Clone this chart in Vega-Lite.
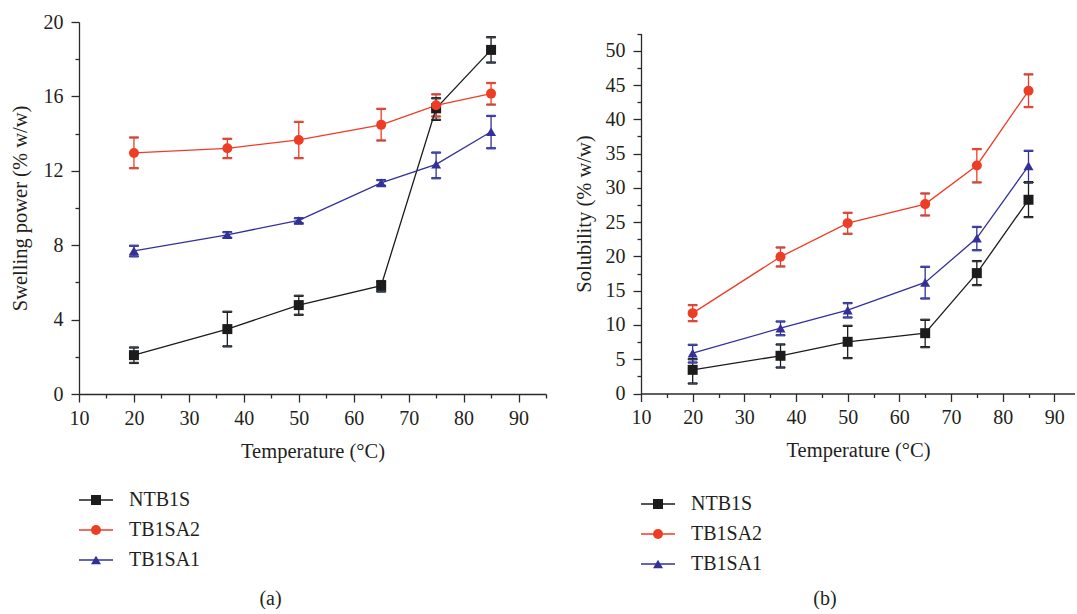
{
  "$schema": "https://vega.github.io/schema/vega-lite/v6.json",
  "padding": {"left": 10, "top": 12, "right": 0, "bottom": 0},
  "spacing": 27,
  "config": {
    "font": "Liberation Serif",
    "view": {"stroke": null},
    "axis": {"grid": false, "labelFont": "Liberation Serif", "titleFont": "Liberation Serif", "labelFontSize": 20, "titleFontSize": 20.5, "titleFontWeight": "normal", "labelColor": "#231f20", "titleColor": "#231f20", "domainColor": "#2a2a2a", "tickColor": "#2a2a2a", "domainWidth": 1.3, "tickWidth": 1.3, "labelOverlap": false, "labelFlush": false}
  },
  "datasets": {
    "swelling": [
      {"T": 20, "series": "NTB1S", "v": 2.09, "lo": 1.67, "hi": 2.5},
      {"T": 37, "series": "NTB1S", "v": 3.49, "lo": 2.56, "hi": 4.42},
      {"T": 50, "series": "NTB1S", "v": 4.78, "lo": 4.26, "hi": 5.28},
      {"T": 65, "series": "NTB1S", "v": 5.82, "lo": 5.51, "hi": 6.07},
      {"T": 75, "series": "NTB1S", "v": 15.36, "lo": 14.74, "hi": 15.9},
      {"T": 85, "series": "NTB1S", "v": 18.5, "lo": 17.82, "hi": 19.18},
      {"T": 20, "series": "TB1SA2", "v": 12.96, "lo": 12.14, "hi": 13.79},
      {"T": 37, "series": "TB1SA2", "v": 13.21, "lo": 12.68, "hi": 13.72},
      {"T": 50, "series": "TB1SA2", "v": 13.66, "lo": 12.68, "hi": 14.63},
      {"T": 65, "series": "TB1SA2", "v": 14.47, "lo": 13.63, "hi": 15.33},
      {"T": 75, "series": "TB1SA2", "v": 15.52, "lo": 14.92, "hi": 16.11},
      {"T": 85, "series": "TB1SA2", "v": 16.15, "lo": 15.56, "hi": 16.72},
      {"T": 20, "series": "TB1SA1", "v": 7.7, "lo": 7.4, "hi": 7.97},
      {"T": 37, "series": "TB1SA1", "v": 8.56, "lo": 8.4, "hi": 8.7},
      {"T": 50, "series": "TB1SA1", "v": 9.33, "lo": 9.18, "hi": 9.45},
      {"T": 65, "series": "TB1SA1", "v": 11.35, "lo": 11.2, "hi": 11.5},
      {"T": 75, "series": "TB1SA1", "v": 12.35, "lo": 11.6, "hi": 12.98},
      {"T": 85, "series": "TB1SA1", "v": 14.1, "lo": 13.21, "hi": 14.95}
    ],
    "solubility": [
      {"T": 20, "series": "NTB1S", "v": 3.45, "lo": 1.46, "hi": 5.0},
      {"T": 37, "series": "NTB1S", "v": 5.5, "lo": 3.79, "hi": 7.15},
      {"T": 50, "series": "NTB1S", "v": 7.54, "lo": 5.16, "hi": 9.87},
      {"T": 65, "series": "NTB1S", "v": 8.8, "lo": 6.76, "hi": 10.75},
      {"T": 75, "series": "NTB1S", "v": 17.56, "lo": 15.81, "hi": 19.31},
      {"T": 85, "series": "NTB1S", "v": 28.26, "lo": 25.73, "hi": 30.8},
      {"T": 20, "series": "TB1SA2", "v": 11.72, "lo": 10.55, "hi": 12.89},
      {"T": 37, "series": "TB1SA2", "v": 19.94, "lo": 18.53, "hi": 21.3},
      {"T": 50, "series": "TB1SA2", "v": 24.85, "lo": 23.3, "hi": 26.36},
      {"T": 65, "series": "TB1SA2", "v": 27.63, "lo": 25.97, "hi": 29.18},
      {"T": 75, "series": "TB1SA2", "v": 33.27, "lo": 30.79, "hi": 35.65},
      {"T": 85, "series": "TB1SA2", "v": 44.16, "lo": 41.78, "hi": 46.55},
      {"T": 20, "series": "TB1SA1", "v": 5.88, "lo": 4.52, "hi": 7.1},
      {"T": 37, "series": "TB1SA1", "v": 9.53, "lo": 8.5, "hi": 10.5},
      {"T": 50, "series": "TB1SA1", "v": 12.16, "lo": 11.09, "hi": 13.18},
      {"T": 65, "series": "TB1SA1", "v": 16.2, "lo": 13.86, "hi": 18.48},
      {"T": 75, "series": "TB1SA1", "v": 22.67, "lo": 20.9, "hi": 24.3},
      {"T": 85, "series": "TB1SA1", "v": 33.2, "lo": 30.8, "hi": 35.4}
    ]
  },
  "resolve": {
    "scale": {"x": "independent", "y": "independent", "stroke": "independent", "fill": "independent", "shape": "independent"},
    "legend": {"stroke": "independent", "fill": "independent", "shape": "independent"}
  },
  "hconcat": [
    {
      "width": 467,
      "height": 372,
      "data": {"name": "swelling"},
      "title": {"text": "(a)", "orient": "bottom", "frame": "group", "anchor": "middle", "dx": -42, "offset": 19, "fontSize": 20, "font": "Liberation Serif", "fontWeight": "normal", "color": "#231f20"},
      "encoding": {
        "x": {"field": "T", "type": "quantitative", "scale": {"domain": [10, 95], "nice": false, "zero": false},
          "axis": {"title": "Temperature (°C)", "values": [10, 15, 20, 25, 30, 35, 40, 45, 50, 55, 60, 65, 70, 75, 80, 85, 90, 95],
            "labelExpr": "datum.value % 10 === 0 ? datum.label : ''",
            "tickSize": {"condition": {"test": "datum.value % 10 === 0", "value": 8}, "value": 4},
            "labelPadding": 6, "titlePadding": 13}},
        "stroke": {"field": "series", "type": "nominal", "sort": ["NTB1S", "TB1SA2", "TB1SA1"],
          "scale": {"range": ["#1c1c1c", "#ee3d25", "#33309a"]},
          "legend": {"orient": "none", "legendX": 7, "legendY": 468, "title": null, "symbolType": "M-3.4,0H3.4", "symbolSize": 100, "symbolStrokeWidth": 1.4, "labelFont": "Liberation Serif", "labelFontSize": 20, "labelColor": "#231f20", "labelOffset": 23, "rowPadding": 10, "padding": 0}},
        "y": {"field": "v", "type": "quantitative", "scale": {"domain": [0, 20], "nice": false},
          "axis": {"title": "Swelling power (% w/w)", "values": [0, 2, 4, 6, 8, 10, 12, 14, 16, 18, 20], "labelExpr": "datum.value % 4 === 0 ? datum.label : ''", "tickSize": {"condition": {"test": "datum.value % 4 === 0", "value": 8}, "value": 4}, "labelPadding": 8, "titlePadding": 13}}
      },
      "layer": [
        {"mark": {"type": "rule", "strokeWidth": 1.3, "opacity": 1},
          "encoding": {"y": {"field": "lo", "type": "quantitative", "scale": {"domain": [0, 20], "nice": false},
            "axis": {"title": "Swelling power (% w/w)", "values": [0, 2, 4, 6, 8, 10, 12, 14, 16, 18, 20], "labelExpr": "datum.value % 4 === 0 ? datum.label : ''", "tickSize": {"condition": {"test": "datum.value % 4 === 0", "value": 8}, "value": 4}, "labelPadding": 8, "titlePadding": 13}},
            "y2": {"field": "hi"}}},
        {"mark": {"type": "tick", "orient": "horizontal", "size": 9, "thickness": 1.3, "opacity": 1},
          "encoding": {"y": {"field": "lo", "type": "quantitative", "scale": {"domain": [0, 20], "nice": false},
            "axis": {"title": "Swelling power (% w/w)", "values": [0, 2, 4, 6, 8, 10, 12, 14, 16, 18, 20], "labelExpr": "datum.value % 4 === 0 ? datum.label : ''", "tickSize": {"condition": {"test": "datum.value % 4 === 0", "value": 8}, "value": 4}, "labelPadding": 8, "titlePadding": 13}}}},
        {"mark": {"type": "tick", "orient": "horizontal", "size": 9, "thickness": 1.3, "opacity": 1},
          "encoding": {"y": {"field": "hi", "type": "quantitative", "scale": {"domain": [0, 20], "nice": false},
            "axis": {"title": "Swelling power (% w/w)", "values": [0, 2, 4, 6, 8, 10, 12, 14, 16, 18, 20], "labelExpr": "datum.value % 4 === 0 ? datum.label : ''", "tickSize": {"condition": {"test": "datum.value % 4 === 0", "value": 8}, "value": 4}, "labelPadding": 8, "titlePadding": 13}}}},
        {"mark": {"type": "line", "strokeWidth": 1.3}},
        {"mark": {"type": "point", "filled": true, "size": 100, "opacity": 1, "strokeWidth": 0},
          "encoding": {
            "fill": {"field": "series", "type": "nominal",
              "scale": {"domain": ["NTB1S", "TB1SA2", "TB1SA1"], "range": ["#1c1c1c", "#ee3d25", "#33309a"]},
              "legend": {"orient": "none", "legendX": 7, "legendY": 468, "title": null, "symbolSize": 100, "symbolStrokeWidth": 0, "labelFont": "Liberation Serif", "labelFontSize": 20, "labelOpacity": 0, "labelOffset": 23, "rowPadding": 10, "padding": 0}},
            "shape": {"field": "series", "type": "nominal",
              "scale": {"domain": ["NTB1S", "TB1SA2", "TB1SA1"], "range": ["square", "circle", "triangle-up"]},
              "legend": {"orient": "none", "legendX": 7, "legendY": 468, "title": null, "symbolSize": 100, "symbolStrokeWidth": 0, "labelFont": "Liberation Serif", "labelFontSize": 20, "labelOpacity": 0, "labelOffset": 23, "rowPadding": 10, "padding": 0}}}}
      ]
    },
    {
      "width": 434,
      "height": 371.5,
      "data": {"name": "solubility"},
      "title": {"text": "(b)", "orient": "bottom", "frame": "group", "anchor": "middle", "dx": -33, "offset": 15, "fontSize": 20, "font": "Liberation Serif", "fontWeight": "normal", "color": "#231f20"},
      "encoding": {
        "x": {"field": "T", "type": "quantitative", "scale": {"domain": [10, 94], "nice": false, "zero": false},
          "axis": {"title": "Temperature (°C)", "values": [10, 15, 20, 25, 30, 35, 40, 45, 50, 55, 60, 65, 70, 75, 80, 85, 90],
            "labelExpr": "datum.value % 10 === 0 ? datum.label : ''",
            "tickSize": {"condition": {"test": "datum.value % 10 === 0", "value": 8}, "value": 4},
            "labelPadding": 6, "titlePadding": 13}},
        "stroke": {"field": "series", "type": "nominal", "sort": ["NTB1S", "TB1SA2", "TB1SA1"],
          "scale": {"range": ["#1c1c1c", "#ee3d25", "#33309a"]},
          "legend": {"orient": "none", "legendX": 7, "legendY": 472, "title": null, "symbolType": "M-3.4,0H3.4", "symbolSize": 100, "symbolStrokeWidth": 1.4, "labelFont": "Liberation Serif", "labelFontSize": 20, "labelColor": "#231f20", "labelOffset": 23, "rowPadding": 10, "padding": 0}},
        "y": {"field": "v", "type": "quantitative", "scale": {"domain": [0, 52.5], "nice": false, "range": [371.5, 11.6]},
          "axis": {"title": "Solubility (% w/w)", "values": [0, 2.5, 5, 7.5, 10, 12.5, 15, 17.5, 20, 22.5, 25, 27.5, 30, 32.5, 35, 37.5, 40, 42.5, 45, 47.5, 50, 52.5], "labelExpr": "datum.value % 5 === 0 ? datum.label : ''", "tickSize": {"condition": {"test": "datum.value % 5 === 0", "value": 8}, "value": 4}, "labelPadding": 8, "titlePadding": 11}}
      },
      "layer": [
        {"mark": {"type": "rule", "strokeWidth": 1.3, "opacity": 1},
          "encoding": {"y": {"field": "lo", "type": "quantitative", "scale": {"domain": [0, 52.5], "nice": false, "range": [371.5, 11.6]},
            "axis": {"title": "Solubility (% w/w)", "values": [0, 2.5, 5, 7.5, 10, 12.5, 15, 17.5, 20, 22.5, 25, 27.5, 30, 32.5, 35, 37.5, 40, 42.5, 45, 47.5, 50, 52.5], "labelExpr": "datum.value % 5 === 0 ? datum.label : ''", "tickSize": {"condition": {"test": "datum.value % 5 === 0", "value": 8}, "value": 4}, "labelPadding": 8, "titlePadding": 11}},
            "y2": {"field": "hi"}}},
        {"mark": {"type": "tick", "orient": "horizontal", "size": 9, "thickness": 1.3, "opacity": 1},
          "encoding": {"y": {"field": "lo", "type": "quantitative", "scale": {"domain": [0, 52.5], "nice": false, "range": [371.5, 11.6]},
            "axis": {"title": "Solubility (% w/w)", "values": [0, 2.5, 5, 7.5, 10, 12.5, 15, 17.5, 20, 22.5, 25, 27.5, 30, 32.5, 35, 37.5, 40, 42.5, 45, 47.5, 50, 52.5], "labelExpr": "datum.value % 5 === 0 ? datum.label : ''", "tickSize": {"condition": {"test": "datum.value % 5 === 0", "value": 8}, "value": 4}, "labelPadding": 8, "titlePadding": 11}}}},
        {"mark": {"type": "tick", "orient": "horizontal", "size": 9, "thickness": 1.3, "opacity": 1},
          "encoding": {"y": {"field": "hi", "type": "quantitative", "scale": {"domain": [0, 52.5], "nice": false, "range": [371.5, 11.6]},
            "axis": {"title": "Solubility (% w/w)", "values": [0, 2.5, 5, 7.5, 10, 12.5, 15, 17.5, 20, 22.5, 25, 27.5, 30, 32.5, 35, 37.5, 40, 42.5, 45, 47.5, 50, 52.5], "labelExpr": "datum.value % 5 === 0 ? datum.label : ''", "tickSize": {"condition": {"test": "datum.value % 5 === 0", "value": 8}, "value": 4}, "labelPadding": 8, "titlePadding": 11}}}},
        {"mark": {"type": "line", "strokeWidth": 1.3}},
        {"mark": {"type": "point", "filled": true, "size": 100, "opacity": 1, "strokeWidth": 0},
          "encoding": {
            "fill": {"field": "series", "type": "nominal",
              "scale": {"domain": ["NTB1S", "TB1SA2", "TB1SA1"], "range": ["#1c1c1c", "#ee3d25", "#33309a"]},
              "legend": {"orient": "none", "legendX": 7, "legendY": 472, "title": null, "symbolSize": 100, "symbolStrokeWidth": 0, "labelFont": "Liberation Serif", "labelFontSize": 20, "labelOpacity": 0, "labelOffset": 23, "rowPadding": 10, "padding": 0}},
            "shape": {"field": "series", "type": "nominal",
              "scale": {"domain": ["NTB1S", "TB1SA2", "TB1SA1"], "range": ["square", "circle", "triangle-up"]},
              "legend": {"orient": "none", "legendX": 7, "legendY": 472, "title": null, "symbolSize": 100, "symbolStrokeWidth": 0, "labelFont": "Liberation Serif", "labelFontSize": 20, "labelOpacity": 0, "labelOffset": 23, "rowPadding": 10, "padding": 0}}}}
      ]
    }
  ]
}
